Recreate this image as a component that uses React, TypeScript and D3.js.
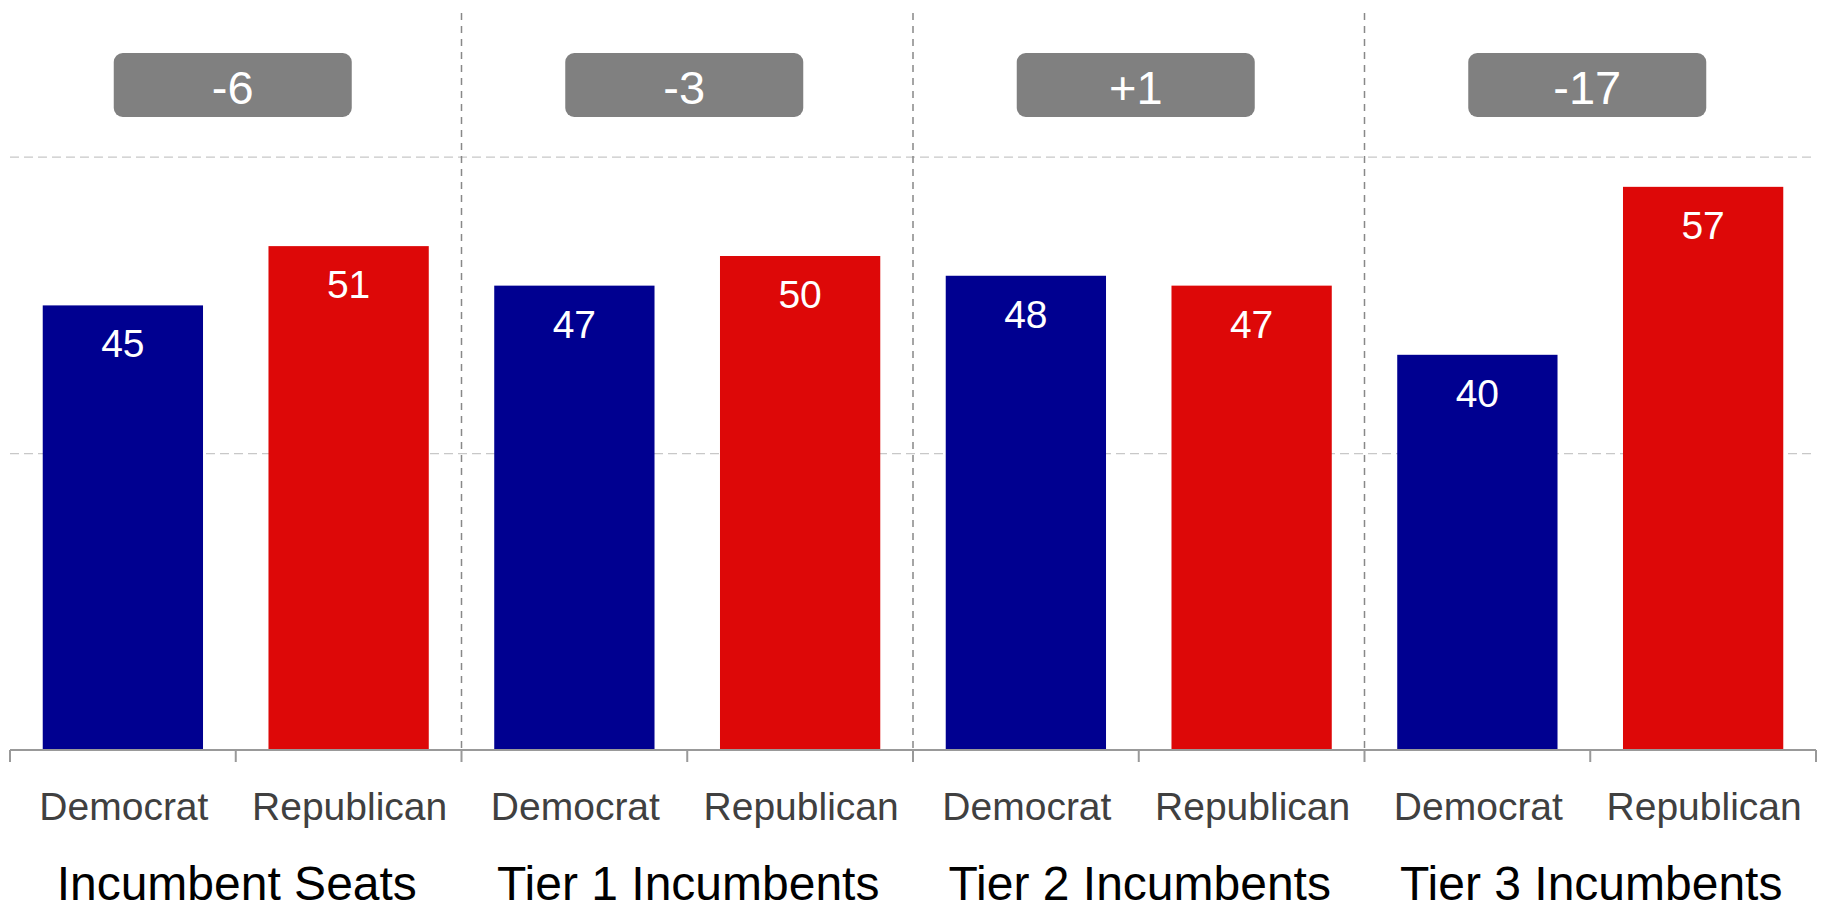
import React from "react";
import * as d3 from "d3";

const groups = ["Incumbent Seats", "Tier 1 Incumbents", "Tier 2 Incumbents", "Tier 3 Incumbents"];
const parties = ["Democrat", "Republican"];
const demValues = [45, 47, 48, 40];
const repValues = [51, 50, 47, 57];
const diffLabels = ["-6", "-3", "+1", "-17"];
const yTicks = [30, 60];

const W = 1826;
const H = 907;
const left = 10;
const right = 1816;
const baseY = 750;
const topY = 9;
const FONT = "'Liberation Sans', Arial, sans-serif";
const BLUE = "#000090";
const RED = "#DD0808";

export default function App() {
  const slots = groups.flatMap((g, gi) => parties.map((p) => `${gi}|${p}`));
  const x = d3.scaleBand<string>().domain(slots).range([left, right]).paddingInner(0.29).paddingOuter(0.145);
  const y = d3.scaleLinear().domain([0, 75]).range([baseY, topY]);
  const step = x.step();
  const groupX = d3.scaleLinear().domain([0, groups.length]).range([left, right]);

  const bars = groups.flatMap((g, gi) => [
    { key: `${gi}|Democrat`, v: demValues[gi], c: BLUE, label: "Democrat" },
    { key: `${gi}|Republican`, v: repValues[gi], c: RED, label: "Republican" },
  ]);

  const tickXs = d3.range(slots.length + 1).map((i) => left + i * step);

  return (
    <svg width={W} height={H} style={{ position: "absolute", left: 0, top: 0, background: "#fff" }}>
      {/* horizontal gridlines */}
      {yTicks.map((t) => (
        <line key={t} x1={left} x2={right} y1={y(t)} y2={y(t)} stroke="#c8c8c8" strokeWidth={1.3} strokeDasharray="9,5" />
      ))}
      {/* vertical separators */}
      {d3.range(1, groups.length).map((i) => (
        <line key={i} x1={groupX(i)} x2={groupX(i)} y1={13} y2={baseY} stroke="#888" strokeWidth={1.5} strokeDasharray="7,6" />
      ))}
      {/* bars */}
      {bars.map((b) => (
        <g key={b.key}>
          <rect x={x(b.key)} y={y(b.v)} width={x.bandwidth()} height={baseY - y(b.v)} fill={b.c} />
          <text x={(x(b.key) as number) + x.bandwidth() / 2} y={y(b.v) + 52} textAnchor="middle" fill="#fff" fontFamily={FONT} fontSize={39}>
            {b.v}
          </text>
          <text x={(x(b.key) as number) + x.bandwidth() / 2 + 1} y={820} textAnchor="middle" fill="#404040" fontFamily={FONT} fontSize={39}>
            {b.label}
          </text>
        </g>
      ))}
      {/* axis */}
      <line x1={left} x2={right} y1={baseY} y2={baseY} stroke="#999" strokeWidth={2} />
      {tickXs.map((tx, i) => (
        <line key={i} x1={tx} x2={tx} y1={baseY} y2={baseY + 12} stroke="#999" strokeWidth={2} />
      ))}
      {/* group labels and diff boxes */}
      {groups.map((g, gi) => {
        const cx = (groupX(gi) + groupX(gi + 1)) / 2 - 3;
        return (
          <g key={g}>
            <rect x={cx - 119} y={53} width={238} height={64} rx={9} fill="#808080" />
            <text x={cx} y={104} textAnchor="middle" fill="#fff" fontFamily={FONT} fontSize={47}>
              {diffLabels[gi]}
            </text>
            <text x={cx + 4} y={900} textAnchor="middle" fill="#000" fontFamily={FONT} fontSize={48}>
              {g}
            </text>
          </g>
        );
      })}
    </svg>
  );
}
